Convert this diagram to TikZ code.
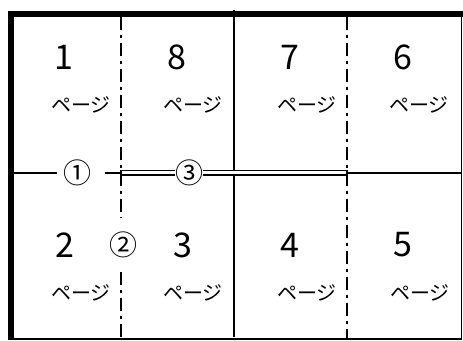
\documentclass[tikz,border=0pt]{standalone}
\usepackage{fontspec}
\setmainfont{Noto Sans CJK JP}
\usetikzlibrary{positioning}

\tikzset{
  num/.style={inner sep=0pt,font=\fontsize{34}{34}\selectfont},
  pagetext/.style={inner sep=0pt,font=\fontsize{20}{20}\selectfont},
  circnum/.style={inner sep=0pt,fill=white,font=\fontsize{28}{28}\selectfont},
  fold/.style={line width=1.6pt,dash pattern=on 13pt off 5pt on 3pt off 5pt},
  thin/.style={line width=1.4pt}
}

\begin{document}
\begin{tikzpicture}[x=1pt,y=1pt]
    \useasboundingbox (0,0) rectangle (463,340);

    % frame
    \fill (8,323) rectangle (463,329);
    \fill (8,0) rectangle (14,329);
    \draw[thin] (14,1) -- (461.5,1) -- (461.5,323);

    % fold lines
    \draw[fold] (121,323) -- (121,122);
    \draw[fold] (121,68) -- (121,0);
    \draw[fold] (347,323) -- (347,0);
    \draw[line width=2pt] (233.5,330) -- (233.5,3);

    % cut line
    \coordinate (h0) at (14,167);
    \coordinate (h1) at (57,167);
    \coordinate (h2) at (105,167);
    \coordinate (h3) at (121,167);
    \coordinate (h4) at (347,167);
    \coordinate (h5) at (461,167);
    \draw[thin] (h0) -- (h1);
    \draw[thin] (h2) -- (h3);
    \draw[thin] (h4) -- (h5);
    \draw[line width=1.2pt,fill=white] (121,165) rectangle (347,169.5);

    \node[circnum] (m1) at (77,167) {①};
    \node[circnum] (m3) at (189,167) {③};
    \node[circnum] (m2) at (123,95) {②};

    % upper row
    \node[num] (n1) at (64,283) {1};
    \node[num] (n8) at (177,283) {8};
    \node[num] (n7) at (290,283) {7};
    \node[num] (n6) at (403,283) {6};
    \node[pagetext] (g1) at (81,235) {ページ};
    \node[pagetext] (g8) at (193,235) {ページ};
    \node[pagetext] (g7) at (307,235) {ページ};
    \node[pagetext] (g6) at (419,235) {ページ};

    % lower row
    \node[num] (n2) at (65,95) {2};
    \node[num] (n3) at (183,95) {3};
    \node[num] (n4) at (290,95) {4};
    \node[num] (n5) at (403,95) {5};
    \node[pagetext] (g2) at (81,47) {ページ};
    \node[pagetext] (g3) at (193,47) {ページ};
    \node[pagetext] (g4) at (307,47) {ページ};
    \node[pagetext] (g5) at (420,47) {ページ};
\end{tikzpicture}
\end{document}
